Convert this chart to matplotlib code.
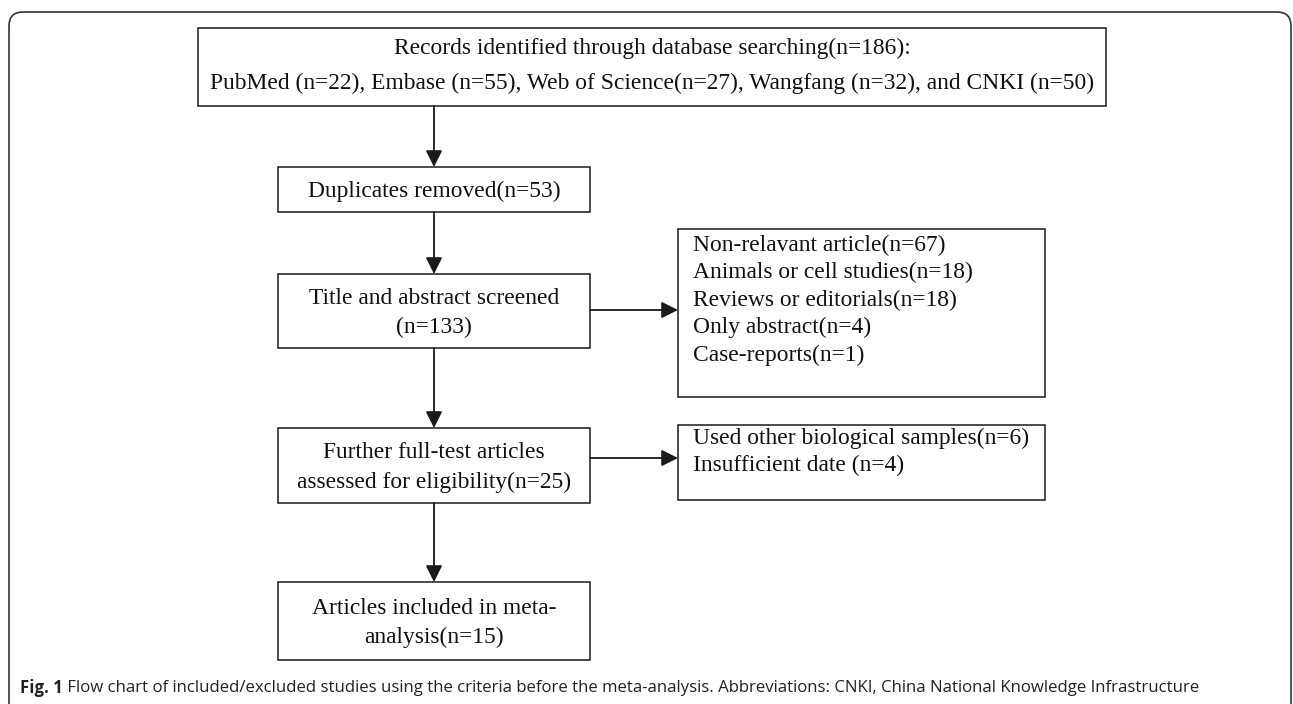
import matplotlib.pyplot as plt
from matplotlib.patches import Rectangle, FancyBboxPatch

# box texts (flow of records)
top_lines = ["Records identified through database searching(n=186):",
             "PubMed (n=22), Embase (n=55), Web of Science(n=27), Wangfang (n=32), and CNKI (n=50)"]
main_steps = [["Duplicates removed(n=53)"],
              ["Title and abstract screened", "(n=133)"],
              ["Further full-test articles", "assessed for eligibility(n=25)"],
              ["Articles included in meta-", "analysis(n=15)"]]
excl_1 = ["Non-relavant article(n=67)", "Animals or cell studies(n=18)",
          "Reviews or editorials(n=18)", "Only abstract(n=4)", "Case-reports(n=1)"]
excl_2 = ["Used other biological samples(n=6)", "Insufficient date (n=4)"]
caption_bold = "Fig. 1"
caption_rest = (" Flow chart of included/excluded studies using the criteria before the "
                "meta-analysis. Abbreviations: CNKI, China National Knowledge Infrastructure")

W, H = 1293, 704
fig = plt.figure(figsize=(W / 100, H / 100), dpi=100)
ax = fig.add_axes([0, 0, 1, 1])
ax.set_xlim(0, W)
ax.set_ylim(H, 0)
ax.axis('off')

serif = 'Liberation Serif'
fs = 16.9
ec = '#1a1a1a'
lw = 1.1

# outer rounded frame
frame = FancyBboxPatch((9, 12), 1282, 760, boxstyle="round,pad=0,rounding_size=14",
                       fc='none', ec='#333333', lw=1.2)
ax.add_patch(frame)

def box(x0, y0, x1, y1):
    ax.add_patch(Rectangle((x0, y0), x1 - x0, y1 - y0, fc='white', ec=ec, lw=lw))

def arrow(x0, y0, x1, y1):
    ax.annotate("", xy=(x1, y1), xytext=(x0, y0),
                arrowprops=dict(arrowstyle='-|>,head_length=0.5,head_width=0.25',
                                mutation_scale=20, color=ec, lw=1.3,
                                shrinkA=0, shrinkB=0))

def lines_center(cx, cy, lines, gap):
    n = len(lines)
    for i, t in enumerate(lines):
        y = cy + (i - (n - 1) / 2) * gap
        ax.text(cx, y, t, ha='center', va='center', family=serif, fontsize=fs, color='#111111')

def lines_left(x, y0, lines, gap):
    for i, t in enumerate(lines):
        ax.text(x, y0 + i * gap, t, ha='left', va='center', family=serif, fontsize=fs, color='#111111')

# top box
box(198, 28, 1106, 106)
lines_center(652, 66, top_lines, 35)

# main column
cx = 434
col = [(167, 212), (274, 348), (428, 503), (582, 660)]
for (y0, y1), lines in zip(col, main_steps):
    box(278, y0, 590, y1)
    lines_center(cx, (y0 + y1) / 2 + 2, lines, 29)

arrow(cx, 106, cx, col[0][0])
for (a0, a1), (b0, b1) in zip(col[:-1], col[1:]):
    arrow(cx, a1, cx, b0)

# exclusion boxes
box(678, 229, 1045, 397)
lines_left(693, 245, excl_1, 27.5)
box(678, 425, 1045, 500)
lines_left(693, 438, excl_2, 27.5)

arrow(590, 310, 678, 310)
arrow(590, 458, 678, 458)

# caption
sans = ['Open Sans', 'DejaVu Sans']
t1 = ax.text(20, 688, caption_bold, ha='left', va='center', family=sans,
             fontsize=12.1, fontweight='bold', color='#222222')
fig.canvas.draw()
bb = t1.get_window_extent()
x_next = ax.transData.inverted().transform((bb.x1, bb.y0))[0]
ax.text(x_next, 688, caption_rest, ha='left', va='center', family=sans,
        fontsize=12.1, color='#222222')

fig.savefig('out.png', dpi=100)
